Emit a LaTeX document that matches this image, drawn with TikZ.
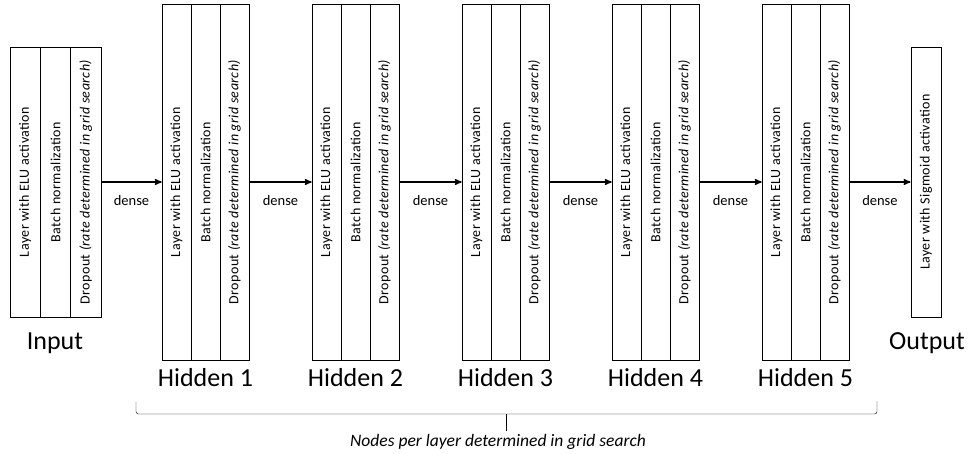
\documentclass[tikz,border=0pt]{standalone}
\usepackage{fontspec}
\setmainfont{Carlito}
\usetikzlibrary{arrows,positioning}
\tikzset{
    %Define standard arrow tip
    >=stealth',
    col/.style={
      rectangle,
      draw=black, semithick,
      rotate=90,
      minimum width=356pt,
      minimum height=29pt,
      inner sep=0pt,
      text centered,
      font=\fontsize{14}{16}\selectfont\addfontfeature{LetterSpace=3}},
    incol/.style={col, minimum width=270pt, minimum height=30.3pt},
    title/.style={font=\fontsize{26}{30}\selectfont},
    dense/.style={font=\fontsize{14.5}{16}\selectfont, below=9pt},
    link/.style={->, line width=1.4pt}
}
\newcommand{\elu}{Layer with ELU activation}
\newcommand{\bnorm}{Batch normalization}
\newcommand{\drop}{Dropout \textit{(rate determined in grid search)}}

\begin{document}
\begin{tikzpicture}[x=1pt,y=-1pt]
    \useasboundingbox (0,0) rectangle (968,453);
    % input
    \node (in1) [incol] at (25.2,182) {\elu};
    \node (in2) [incol] at (55.5,182) {\bnorm};
    \node (in3) [incol] at (85.8,182) {\drop};
    \node (inlbl) [title] at (55,343) {Input};
    % hidden 1
    \node (h1a) [col] at (176.5,182) {\elu};
    \node (h1b) [col] at (205.5,182) {\bnorm};
    \node (h1c) [col] at (234.5,182) {\drop};
    \node (h1lbl) [title] at (205.5,378) {Hidden 1};
    % hidden 2
    \node (h2a) [col] at (326.5,182) {\elu};
    \node (h2b) [col] at (355.5,182) {\bnorm};
    \node (h2c) [col] at (384.5,182) {\drop};
    \node (h2lbl) [title] at (355.5,378) {Hidden 2};
    % hidden 3
    \node (h3a) [col] at (476.5,182) {\elu};
    \node (h3b) [col] at (505.5,182) {\bnorm};
    \node (h3c) [col] at (534.5,182) {\drop};
    \node (h3lbl) [title] at (505.5,378) {Hidden 3};
    % hidden 4
    \node (h4a) [col] at (626.5,182) {\elu};
    \node (h4b) [col] at (655.5,182) {\bnorm};
    \node (h4c) [col] at (684.5,182) {\drop};
    \node (h4lbl) [title] at (655.5,378) {Hidden 4};
    % hidden 5
    \node (h5a) [col] at (776.5,182) {\elu};
    \node (h5b) [col] at (805.5,182) {\bnorm};
    \node (h5c) [col] at (834.5,182) {\drop};
    \node (h5lbl) [title] at (805.5,378) {Hidden 5};
    % output
    \node (out) [incol] at (926,182) {Layer with Sigmoid activation};
    \node (outlbl) [title] at (927,343) {Output};
    % dense connections
    \draw [link] (in3.south) -- node [dense] {dense} (h1a.north);
    \draw [link] (h1c.south) -- node [dense] {dense} (h2a.north);
    \draw [link] (h2c.south) -- node [dense] {dense} (h3a.north);
    \draw [link] (h3c.south) -- node [dense] {dense} (h4a.north);
    \draw [link] (h4c.south) -- node [dense] {dense} (h5a.north);
    \draw [link] (h5c.south) -- node [dense] {dense} (out.north);
    % brace under hidden layers
    \coordinate (bl) at (136,402);
    \coordinate (br) at (877,401);
    \coordinate (bm) at (506,414);
    \coordinate (tip) at (506,431);
    \draw [rounded corners=2.5pt] (bl) |- (bm) -| (br);
    \draw (bm) -- (tip);
    \node (gridlbl) [font=\fontsize{17.5}{20}\selectfont\itshape] at (498,442)
          {Nodes per layer determined in grid search};
\end{tikzpicture}
\end{document}
